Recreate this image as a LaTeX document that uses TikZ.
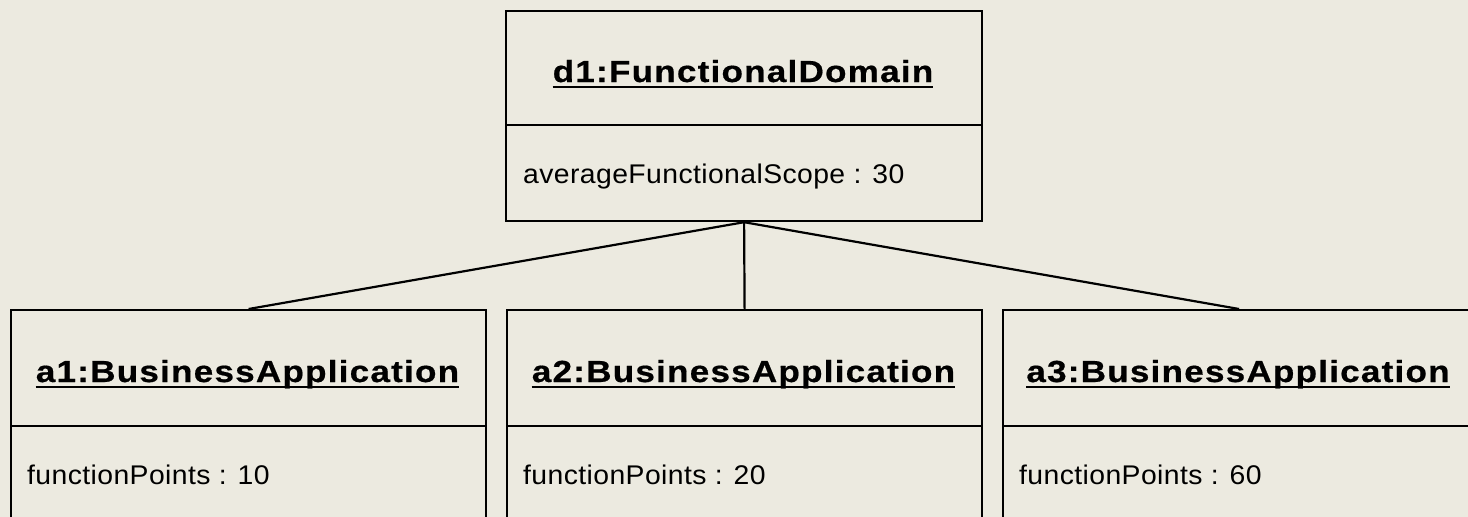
\documentclass[tikz,border=0pt]{standalone}
\usepackage{fontspec}
\setmainfont{Liberation Sans}
\newfontfamily\titlefont{Liberation Sans}[FakeStretch=1.15,LetterSpace=4,FakeBold=0.6]
\newfontfamily\attrfont{Liberation Sans}[FakeStretch=1.05,LetterSpace=1.5]
\definecolor{bgc}{RGB}{236,234,224}
\tikzset{
  umlbox/.style={draw=black, line width=2.2pt, fill=bgc, rectangle, inner sep=0pt},
  titletext/.style={inner sep=0pt, font=\titlefont\bfseries\fontsize{30.5}{32}\selectfont},
  attrtext/.style={inner sep=0pt, font=\attrfont\fontsize{27}{30}\selectfont},
  ulline/.style={line width=2pt},
  divline/.style={line width=2.2pt},
  link/.style={line width=2.2pt}
}
\begin{document}
\begin{tikzpicture}[x=1pt,y=-1pt]
\fill[bgc] (0,0) rectangle (1468,517);
\useasboundingbox (0,0) rectangle (1468,517);
\clip (0,0) rectangle (1468,517);
% boxes
\node[umlbox, minimum width=476pt, minimum height=210pt, anchor=north west] (d1) at (505,10) {};
\node[umlbox, minimum width=475pt, minimum height=212pt, anchor=north west] (a1) at (10,309) {};
\node[umlbox, minimum width=475pt, minimum height=212pt, anchor=north west] (a2) at (506,309) {};
\node[umlbox, minimum width=472pt, minimum height=212pt, anchor=north west] (a3) at (1002,309) {};
% compartment dividers
\coordinate (topdiv) at (0,125);
\coordinate (botdiv) at (0,426);
\draw[divline] (d1.west |- topdiv) -- (d1.east |- topdiv);
\draw[divline] (a1.west |- botdiv) -- (a1.east |- botdiv);
\draw[divline] (a2.west |- botdiv) -- (a2.east |- botdiv);
\draw[divline] (a3.west |- botdiv) -- (a3.east |- botdiv);
% titles
\node[titletext, anchor=base] (d1t) at (743,82) {d1:FunctionalDomain};
\node[titletext, anchor=base] (a1t) at (247.5,382) {a1:BusinessApplication};
\node[titletext, anchor=base] (a2t) at (743.5,382) {a2:BusinessApplication};
\node[titletext, anchor=base] (a3t) at (1238,382) {a3:BusinessApplication};
\foreach \t in {d1t,a1t,a2t,a3t}{
  \draw[ulline] ([yshift=-4.5pt]\t.base west) -- ([yshift=-4.5pt]\t.base east);
}
% attributes
\node[attrtext, anchor=base west] (d1a) at (523,183.5) {averageFunctionalScope : 30};
\node[attrtext, anchor=base west] (a1a) at (27,484.5) {functionPoints : 10};
\node[attrtext, anchor=base west] (a2a) at (523,484.5) {functionPoints : 20};
\node[attrtext, anchor=base west] (a3a) at (1019,484.5) {functionPoints : 60};
% links
\draw[link] (d1.south) -- (a1.north);
\draw[link] (d1.south) -- (a2.north);
\draw[link] (d1.south) -- (a3.north);
\end{tikzpicture}
\end{document}
